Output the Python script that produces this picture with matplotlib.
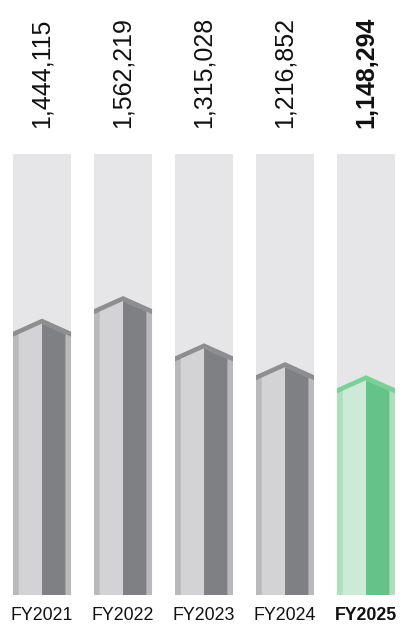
import matplotlib
matplotlib.use("Agg")
from matplotlib import pyplot as plt
from matplotlib.patches import Polygon, Rectangle

years = ["FY2021", "FY2022", "FY2023", "FY2024", "FY2025"]
values = [1444115, 1562219, 1315028, 1216852, 1148294]
highlight = [False, False, False, False, True]

# colours: strip, roof, left face, right face
grey = ["#b9b9bb", "#8e8e90", "#d3d3d5", "#7f8083"]
green = ["#ade0bd", "#7ccf98", "#cbebd7", "#65c38a"]
track = "#e6e6e8"

fig = plt.figure(figsize=(4.05, 6.25), dpi=100)
ax = fig.add_axes([0, 30 / 625, 1, 595 / 625])
ymax = 595 / 191.3 * 1e6
ax.set_xlim(-0.519, 4.481)
ax.set_ylim(0, ymax)
ax.axis("off")

w = 0.716          # column width
s = 0.07           # side strip
drop = 0.068e6     # roof drop from peak to eave
t = 0.026e6        # roof band thickness
track_top = (595 - 154) / 191.3 * 1e6

for i, v in enumerate(values):
    c = green if highlight[i] else grey
    l, r = i - w / 2, i + w / 2
    ax.add_patch(Rectangle((l, 0), w, track_top, color=track, lw=0))
    # outer shape
    ax.add_patch(Polygon([(l, 0), (l, v - drop), (i, v), (r, v - drop), (r, 0)],
                         closed=True, color=c[0], lw=0))
    # roof band
    ax.add_patch(Polygon([(l, v - drop), (i, v), (r, v - drop),
                          (r, v - drop - t), (i, v - t), (l, v - drop - t)],
                         closed=True, color=c[1], lw=0))
    k = drop / (w / 2)
    yi = v - t - k * (w / 2 - s)
    ax.add_patch(Polygon([(l + s, 0), (l + s, yi), (i, v - t), (i, 0)],
                         closed=True, color=c[2], lw=0))
    ax.add_patch(Polygon([(i, 0), (i, v - t), (r - s, yi), (r - s, 0)],
                         closed=True, color=c[3], lw=0))

    wt = "bold" if highlight[i] else "normal"
    ax.text(i, (595 - 128) / 191.3 * 1e6, f"{v:,}", rotation=90, ha="center", va="bottom",
            fontsize=18, fontweight=wt, family="Liberation Sans", color="#111111")
    ax.text(i, -(616 - 595) / 191.3 * 1e6, years[i], ha="center", va="center",
            fontsize=12.8, fontweight=wt, family="Liberation Sans", color="#111111",
            clip_on=False)

fig.savefig("out.png", dpi=100)
